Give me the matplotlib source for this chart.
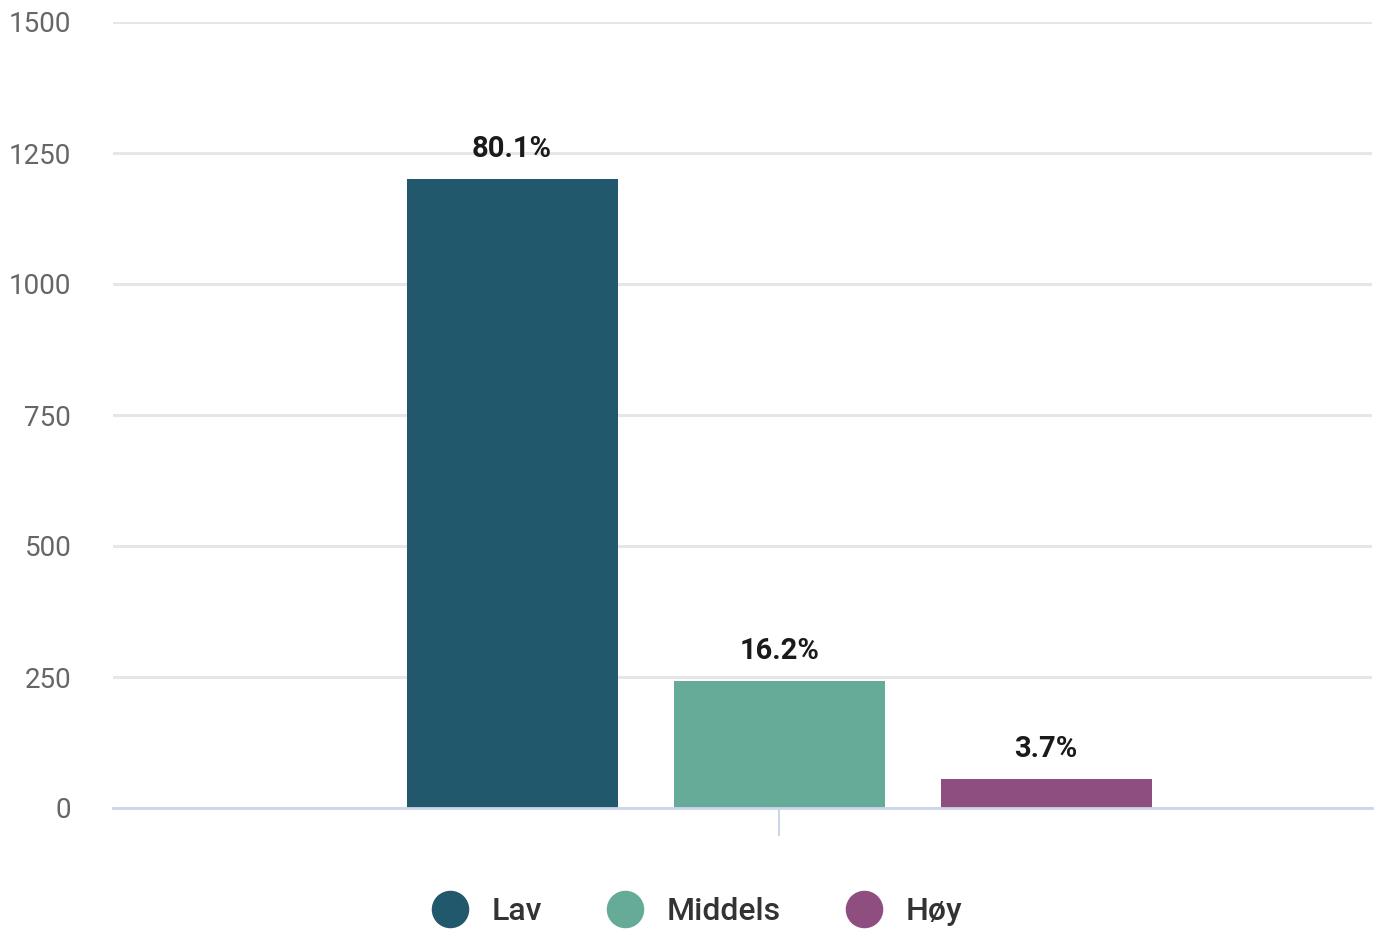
import matplotlib
matplotlib.use("Agg")
import matplotlib.pyplot as plt
from matplotlib.lines import Line2D

series = ["Lav", "Middels", "Høy"]
values = [1200, 242, 55]
pct_labels = ["80.1%", "16.2%", "3.7%"]
colors = ["#22586c", "#66aa98", "#8e4e80"]
yticks = [0, 250, 500, 750, 1000, 1250, 1500]

W, H = 1378, 941
fig = plt.figure(figsize=(W / 100, H / 100), dpi=100)
ax = fig.add_axes([113 / W, (H - 808) / H, (1372 - 113) / W, (808 - 22) / H])

font = ["Roboto", "DejaVu Sans"]

pos = list(range(len(series)))
bars = ax.bar(pos, values, width=0.79, color=colors, zorder=3)
for b, lab in zip(bars, pct_labels):
    ax.annotate(lab, (b.get_x() + b.get_width() / 2, b.get_height()),
                xytext=(0, 12), textcoords="offset points", ha="center", va="bottom",
                fontsize=21, fontweight="bold", color="#1a1a1a", family=font)

ax.set_ylim(0, 1500)
ax.set_xlim(-1.494, 3.22)
ax.set_yticks(yticks)
ax.set_yticklabels([str(t) for t in yticks], fontsize=20, color="#666666", family=font)
ax.tick_params(axis="y", length=0, pad=30)
ax.set_xticks([1])
ax.set_xticklabels([""])
ax.tick_params(axis="x", length=20, width=1.5, color="#ccd6eb", direction="out")
ax.grid(axis="y", color="#e6e6e6", linewidth=2.2, zorder=0)
for s in ["top", "right", "left"]:
    ax.spines[s].set_visible(False)
ax.spines["bottom"].set_color("#ccd6eb")
ax.spines["bottom"].set_linewidth(2)
ax.spines["bottom"].set_zorder(4)

handles = [Line2D([0], [0], marker="o", linestyle="none", markersize=26,
                  markerfacecolor=c, markeredgecolor=c) for c in colors]
leg = fig.legend(handles, series, loc="center", bbox_to_anchor=(690 / W, 1 - 912 / H),
                 ncol=3, frameon=False, handletextpad=0.3, columnspacing=1.6,
                 prop={"family": font, "size": 23})
for t in leg.get_texts():
    t.set_color("#333333")
    t.set_fontweight("medium")

fig.savefig("out.png", dpi=100, facecolor="white")
